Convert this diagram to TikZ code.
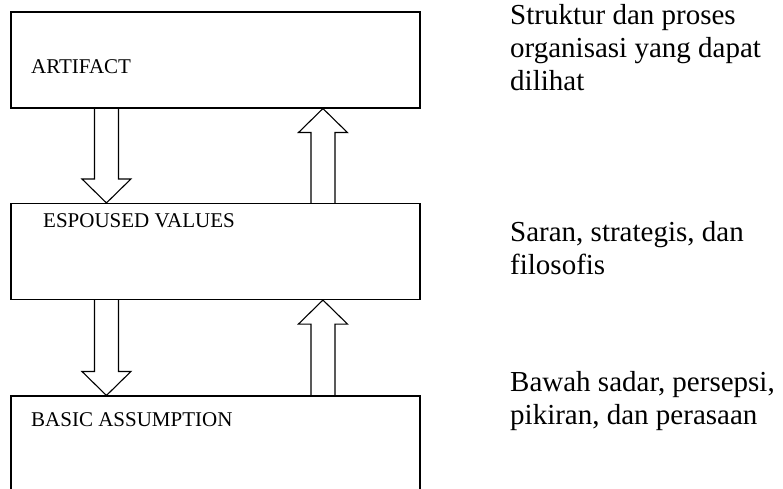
\documentclass[tikz,border=0pt]{standalone}
\usepackage{fontspec}
\setmainfont{Liberation Serif}
\usetikzlibrary{calc}

% hollow block arrow from #1 to #2 (same x)
\newcommand{\hollowarrow}[2]{%
  \draw[fatarrow] let \p1=(#1), \p2=(#2), \n1={sign(\y2-\y1)} in
    ({\x1-12pt},\y1) -- ({\x1-12pt},{\y2-\n1*24pt}) -- ({\x1-24.5pt},{\y2-\n1*24pt})
    -- (\x1,\y2) -- ({\x1+24.5pt},{\y2-\n1*24pt}) -- ({\x1+12pt},{\y2-\n1*24pt})
    -- ({\x1+12pt},\y1);}

\begin{document}
\begin{tikzpicture}[x=1pt,y=-1pt,
	layer/.style={draw, line width=1.1pt, minimum width=409pt, minimum height=96pt, inner sep=0pt},
	fatarrow/.style={line width=1.1pt, line join=miter},
	tag/.style={anchor=base west, inner sep=0pt, font=\fontsize{21}{25}\selectfont},
	note/.style={anchor=base west, inner sep=0pt, align=left, font=\fontsize{29}{33}\selectfont}]
	\clip (0,0) rectangle (783,489);
	\node[layer] (art) at (215.5,60) {};
	\node[layer] (esp) at (215.5,251.5) {};
	\node[layer, minimum height=110pt] (bas) at (215.5,451) {};
	\node[tag] (artname) at (31,74) {ARTIFACT};
	\node[tag] (espname) at (43,227) {ESPOUSED VALUES};
	\node[tag] (basname) at (31,426) {BASIC ASSUMPTION};
	% base anchor sits on the last line
	\node[note] (artnote) at (510,91) {Struktur dan proses\\organisasi yang dapat\\dilihat};
	\node[note] (espnote) at (510,274) {Saran, strategis, dan\\filosofis};
	\node[note] (basnote) at (510,424) {Bawah sadar, persepsi,\\pikiran, dan perasaan};
	\foreach \layA/\layB in {art/esp, esp/bas}{
		\hollowarrow{[xshift=96pt]\layA.south west}{[xshift=96pt]\layB.north west}
		\hollowarrow{[xshift=312.5pt]\layB.north west}{[xshift=312.5pt]\layA.south west}
	}
\end{tikzpicture}
\end{document}
